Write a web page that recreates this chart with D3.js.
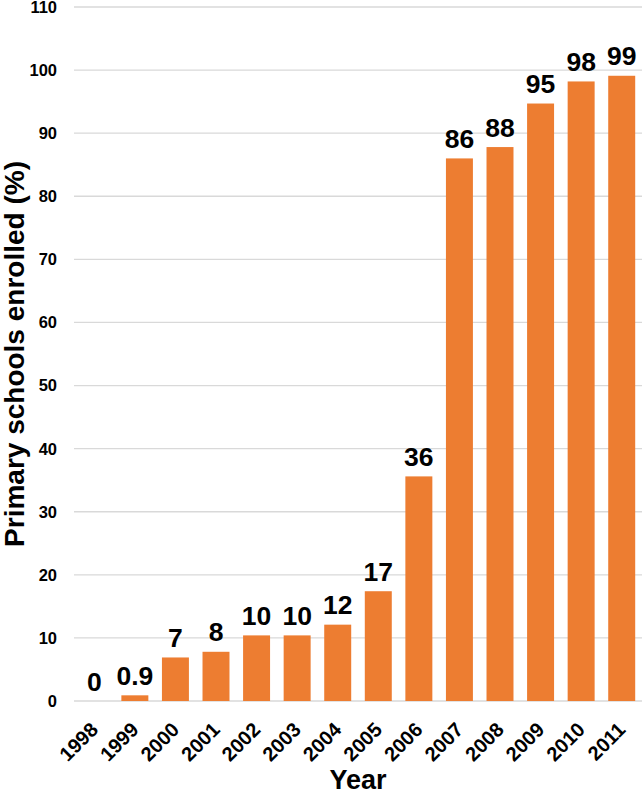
<!DOCTYPE html>
<html>
<head>
<meta charset="utf-8">
<script src="https://cdn.jsdelivr.net/npm/d3@7/dist/d3.min.js"></script>
<style>
  html, body { margin: 0; padding: 0; background: #fff; }
  svg { display: block; font-family: "Liberation Sans", Arial, sans-serif; }
</style>
</head>
<body>
<svg id="chart" width="642" height="794"></svg>
<script>
const years = ["1998","1999","2000","2001","2002","2003","2004","2005","2006","2007","2008","2009","2010","2011"];
const values = [0, 0.9, 6.9, 7.8, 10.4, 10.4, 12.1, 17.4, 35.6, 86.0, 87.8, 94.7, 98.2, 99.1];
const valueLabels = ["0","0.9","7","8","10","10","12","17","36","86","88","95","98","99"];
const yTicks = [0,10,20,30,40,50,60,70,80,90,100,110];

const svg = d3.select("#chart");
const mLeft = 74, mRight = 642, mTop = 7, mBottom = 701;

const x = d3.scaleBand().domain(years).range([mLeft, mRight]).paddingInner(0.335).paddingOuter(0.1675);
const y = d3.scaleLinear().domain([0, 110]).range([mBottom, mTop]);

// gridlines
svg.append("g").selectAll("line").data(yTicks).join("line")
  .attr("x1", mLeft).attr("x2", mRight)
  .attr("y1", d => y(d)).attr("y2", d => y(d))
  .attr("stroke", "#d9d9d9").attr("stroke-width", 1.3);

// y tick labels
svg.append("g").selectAll("text").data(yTicks).join("text")
  .attr("x", 57).attr("y", d => y(d))
  .attr("dy", "0.36em")
  .attr("text-anchor", "end")
  .attr("font-size", 16.5).attr("font-weight", "bold").attr("fill", "#000")
  .text(d => d);

// bars
svg.append("g").selectAll("rect").data(years).join("rect")
  .attr("x", d => x(d))
  .attr("width", x.bandwidth())
  .attr("y", (d, i) => y(values[i]))
  .attr("height", (d, i) => y(0) - y(values[i]))
  .attr("fill", "#ED7D31");

// value labels
svg.append("g").selectAll("text").data(years).join("text")
  .attr("x", d => x(d) + x.bandwidth() / 2)
  .attr("y", (d, i) => y(values[i]) - 10.5)
  .attr("text-anchor", "middle")
  .attr("font-size", 26.5).attr("font-weight", "bold").attr("fill", "#000")
  .text((d, i) => valueLabels[i]);

// x tick labels
svg.append("g").selectAll("text").data(years).join("text")
  .attr("transform", d => `translate(${x(d) + x.bandwidth() / 2 + 5},${731}) rotate(-45)`)
  .attr("text-anchor", "end")
  .attr("font-size", 20).attr("font-weight", "bold").attr("fill", "#000")
  .text(d => d);

// axis titles
svg.append("text")
  .attr("x", (mLeft + mRight) / 2).attr("y", 789)
  .attr("text-anchor", "middle")
  .attr("font-size", 27).attr("font-weight", "bold").attr("fill", "#000")
  .text("Year");

svg.append("text")
  .attr("transform", `translate(24,${(mTop + mBottom) / 2}) rotate(-90)`)
  .attr("text-anchor", "middle")
  .attr("font-size", 28).attr("font-weight", "bold").attr("fill", "#000")
  .text("Primary schools enrolled (%)");
</script>
</body>
</html>
